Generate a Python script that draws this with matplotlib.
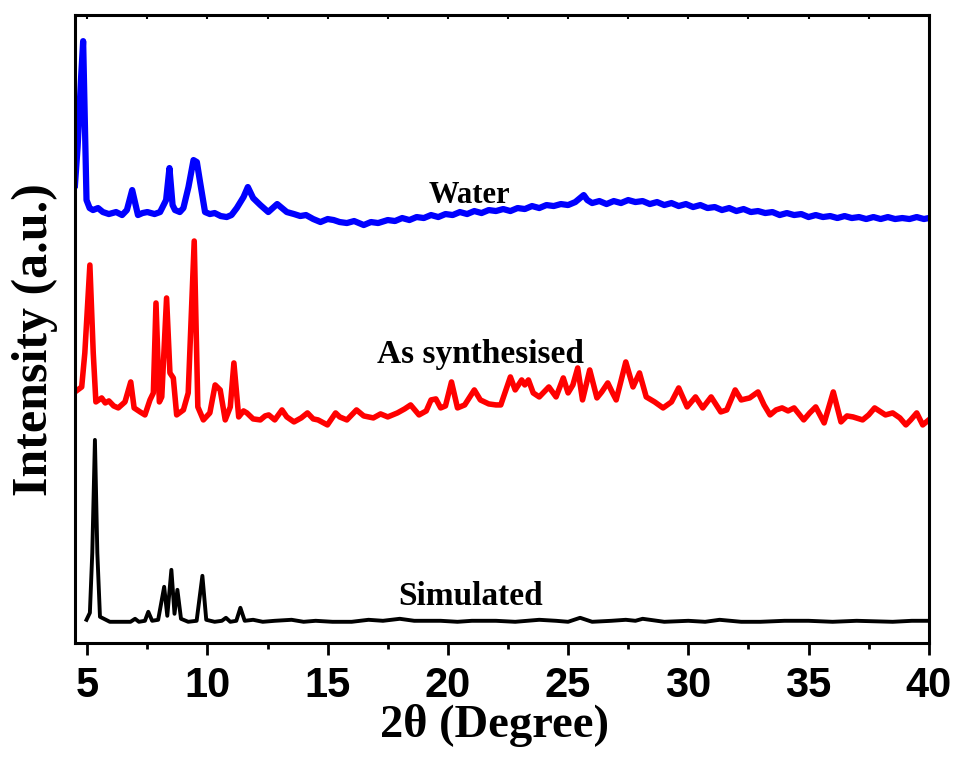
import matplotlib.pyplot as plt

# 2theta positions / intensities (a.u.)
sim_x = [4.97, 5.11, 5.21, 5.32, 5.42, 5.53, 5.94, 6.5, 6.8, 6.99, 7.15, 7.4, 7.54, 7.7, 7.95,
         8.2, 8.33, 8.5, 8.63, 8.75, 8.9, 9.2, 9.55, 9.79, 9.95, 10.3, 10.6, 10.77, 10.95,
         11.2, 11.37, 11.55, 11.9, 12.3, 12.8, 13.5, 14.0, 14.5, 15.2, 16.0, 16.7, 17.3,
         18.0, 18.6, 19.7, 20.4, 21.0, 22.0, 22.8, 23.8, 24.5, 25.0, 25.5, 26.0, 26.8,
         27.4, 27.8, 28.1, 29.0, 30.0, 30.7, 31.3, 32.2, 33.0, 34.0, 35.0, 36.0, 37.0,
         38.5, 39.3, 40.0]
sim_y = [2, 9, 69, 182, 69, 5, 0, 0, 0, 3, 0, 1, 10, 1, 2,
         35, 6, 52, 8, 32, 3, 0, 1, 46, 2, 0, 1, 4, 0,
         1, 14, 1, 2, 0, 1, 2, 0, 1, 0, 0, 2, 1,
         3, 1, 1, 0, 1, 1, 0, 2, 1, 0, 4, 0, 1,
         2, 1, 3, 0, 1, 0, 2, 0, 0, 1, 1, 0, 1,
         0, 1, 1]

syn_x = [4.49, 4.77, 4.9, 5.11, 5.25, 5.36, 5.6, 5.75, 5.9, 6.1, 6.29, 6.57, 6.81, 6.95,
         7.2, 7.4, 7.61, 7.75, 7.86, 8.0, 8.1, 8.3, 8.44, 8.58, 8.72, 9.0, 9.2, 9.45,
         9.6, 9.83, 10.1, 10.32, 10.53, 10.74, 10.95, 11.1, 11.3, 11.5, 11.64, 11.9,
         12.2, 12.4, 12.55, 12.8, 13.1, 13.3, 13.6, 13.9, 14.16, 14.4, 14.6, 14.99,
         15.33, 15.5, 15.8, 16.2, 16.5, 16.9, 17.2, 17.5, 17.9, 18.2, 18.45, 18.8,
         19.1, 19.3, 19.5, 19.7, 19.9, 20.15, 20.4, 20.7, 21.1, 21.35, 21.7, 22.0,
         22.2, 22.6, 22.8, 23.07, 23.2, 23.35, 23.55, 23.8, 24.0, 24.2, 24.5, 24.8,
         25.0, 25.2, 25.4, 25.6, 25.9, 26.2, 26.4, 26.65, 26.85, 27.0, 27.4, 27.7,
         27.97, 28.25, 28.6, 28.95, 29.3, 29.6, 29.95, 30.3, 30.6, 30.95, 31.35, 31.6,
         31.95, 32.2, 32.55, 32.9, 33.15, 33.4, 33.65, 33.9, 34.15, 34.4, 34.8, 35.05,
         35.3, 35.65, 36.03, 36.35, 36.6, 36.85, 37.25, 37.5, 37.75, 38.2, 38.5, 38.8,
         39.05, 39.25, 39.5, 39.75, 40.0]
syn_y = [33, 38, 72, 160, 72, 23, 27, 22, 24, 19, 17, 23, 43, 17,
         13, 10, 25, 32, 122, 23, 28, 127, 52, 47, 10, 15, 32, 184,
         18, 5, 12, 40, 35, 5, 18, 62, 8, 14, 12, 6,
         5, 9, 10, 5, 15, 8, 3, 7, 12, 6, 5, 0,
         12, 8, 5, 15, 9, 7, 11, 8, 12, 16, 20, 10,
         14, 25, 26, 17, 19, 43, 17, 20, 35, 25, 21, 20,
         20, 48, 35, 45, 40, 45, 32, 28, 33, 38, 28, 47,
         32, 40, 57, 25, 55, 27, 33, 42, 32, 25, 63, 38,
         52, 28, 23, 17, 23, 37, 18, 28, 17, 28, 13, 15,
         35, 25, 27, 33, 20, 10, 15, 17, 14, 17, 5, 12,
         18, 2, 33, 3, 9, 8, 5, 10, 17, 10, 12, 7,
         0, 5, 12, 0, 5]

wat_x = [4.49, 4.6, 4.75, 4.83, 4.92, 4.97, 5.1, 5.24, 5.45, 5.65, 5.9, 6.2, 6.45, 6.65,
         6.87, 7.11, 7.3, 7.5, 7.8, 8.03, 8.28, 8.42, 8.55, 8.65, 8.85, 9.0, 9.21, 9.42,
         9.56, 9.7, 9.9, 10.1, 10.3, 10.55, 10.8, 11.0, 11.22, 11.5, 11.68, 11.9, 12.2,
         12.53, 12.9, 13.1, 13.3, 13.6, 13.86, 14.1, 14.4, 14.7, 15.0, 15.25, 15.5, 15.8,
         16.1, 16.5, 16.8, 17.1, 17.5, 17.8, 18.1, 18.4, 18.7, 19.0, 19.3, 19.6, 19.9,
         20.2, 20.5, 20.8, 21.1, 21.4, 21.7, 22.0, 22.3, 22.6, 22.9, 23.2, 23.5, 23.8,
         24.1, 24.4, 24.7, 25.0, 25.3, 25.55, 25.65, 25.8, 26.0, 26.3, 26.6, 26.9, 27.2,
         27.5, 27.8, 28.1, 28.4, 28.7, 29.0, 29.3, 29.6, 29.9, 30.2, 30.5, 30.8, 31.1,
         31.4, 31.7, 32.0, 32.3, 32.6, 32.9, 33.2, 33.5, 33.8, 34.1, 34.4, 34.7, 35.0,
         35.3, 35.6, 35.9, 36.2, 36.5, 36.8, 37.1, 37.4, 37.7, 38.0, 38.3, 38.6, 38.9,
         39.2, 39.5, 39.8, 40.0]
wat_y = [40, 78, 150, 184, 80, 25, 17, 15, 17, 13, 11, 13, 10, 15,
         35, 10, 12, 13, 11, 13, 25, 57, 20, 15, 13, 17, 38, 65,
         63, 42, 13, 11, 12, 9, 8, 10, 17, 28, 38, 27, 20,
         13, 21, 17, 13, 11, 9, 10, 6, 3, 6, 5, 3, 2,
         4, 0, 3, 2, 5, 4, 7, 5, 8, 7, 10, 8, 11,
         10, 13, 11, 14, 12, 15, 14, 16, 14, 17, 16, 19, 17,
         20, 19, 21, 20, 23, 28, 30, 25, 22, 24, 21, 24, 22,
         25, 23, 24, 21, 23, 20, 22, 19, 21, 18, 20, 17, 18,
         15, 17, 14, 16, 13, 14, 12, 13, 10, 12, 10, 11, 8,
         10, 8, 9, 7, 9, 7, 8, 6, 8, 6, 8, 6, 7,
         6, 8, 6, 7]

offsets = [78, 275, 475]
labels = ['Simulated', 'As synthesised', 'Water']
colors = ['black', 'red', 'blue']

plt.rcParams['font.family'] = ['Liberation Serif', 'DejaVu Serif']

fig = plt.figure(figsize=(9.55, 7.58), dpi=100)
ax = fig.add_axes([0.0785, 0.152, 0.894, 0.828])

ax.plot(sim_x, [v + offsets[0] for v in sim_y], color=colors[0], lw=2.8, solid_joinstyle='round')
ax.plot(syn_x, [v + offsets[1] for v in syn_y], color=colors[1], lw=4.0, solid_joinstyle='round')
ax.plot(wat_x, [v + offsets[2] for v in wat_y], color=colors[2], lw=4.5, solid_joinstyle='round')

ax.text(20.96, 95, labels[0], ha='center', va='baseline', fontsize=24, fontweight='bold')
ax.text(21.37, 337, labels[1], ha='center', va='baseline', fontsize=24, fontweight='bold')
ax.text(20.89, 497, labels[2], ha='center', va='baseline', fontsize=22, fontweight='bold')

ax.set_xlim(4.49, 40)
ax.set_ylim(57, 685)
ax.set_yticks([])
ax.set_xticks([5, 10, 15, 20, 25, 30, 35, 40])
ax.set_xticks([7.5, 12.5, 17.5, 22.5, 27.5, 32.5, 37.5], minor=True)
ax.tick_params(axis='x', which='major', direction='out', length=8.5, width=2, pad=8)
ax.tick_params(axis='x', which='minor', direction='out', length=4.5, width=2)
for lab in ax.get_xticklabels():
    lab.set_family(['Liberation Sans', 'DejaVu Sans'])
    lab.set_fontweight('bold')
    lab.set_fontsize(30)

# small inward ticks on top spine
top = ax.secondary_xaxis('top')
top.set_xticks([5, 7.5, 10, 12.5, 15, 17.5, 20, 22.5, 25, 27.5, 30, 32.5, 35, 37.5, 40])
top.tick_params(direction='in', length=3, width=1.5, labeltop=False)
top.spines['top'].set_visible(False)

for s in ax.spines.values():
    s.set_linewidth(2.2)

ax.set_xlabel('2θ (Degree)', fontsize=33.5, fontweight='bold')
ax.xaxis.set_label_coords(0.491, -0.098)
ax.set_ylabel('Intensity (a.u.)', fontsize=36, fontweight='bold')
ax.yaxis.set_label_coords(-0.020, 0.4825)

fig.savefig('out.png', dpi=100)
